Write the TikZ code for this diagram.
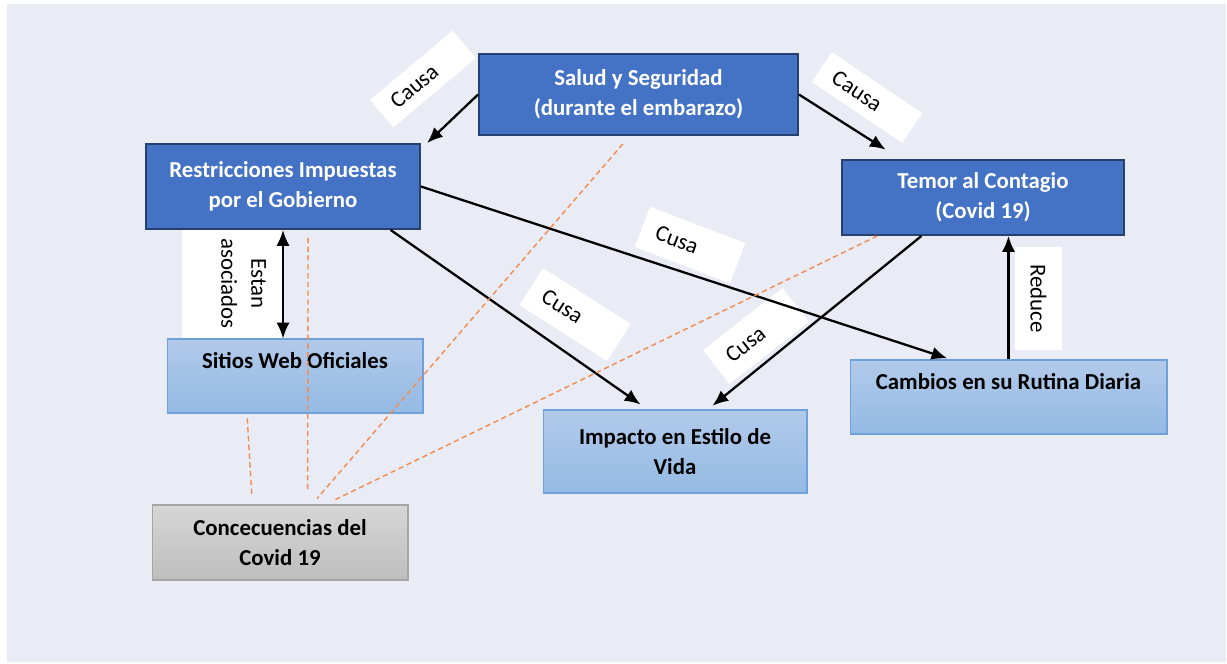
\documentclass[tikz,border=0pt]{standalone}
\usepackage{fontspec}
\setmainfont{Carlito}
\usepackage{tikz}
\usetikzlibrary{arrows.meta}
\definecolor{bgpanel}{RGB}{233,235,245}
\definecolor{darkfill}{RGB}{68,114,196}
\definecolor{darkline}{RGB}{38,64,112}
\definecolor{lighttop}{RGB}{178,202,234}
\definecolor{lightbot}{RGB}{148,186,228}
\definecolor{lightline}{RGB}{110,160,218}
\definecolor{graytop}{RGB}{214,214,214}
\definecolor{graybot}{RGB}{190,190,190}
\definecolor{grayline}{RGB}{165,165,165}
\definecolor{dashorange}{RGB}{240,140,80}

\begin{document}
\begin{tikzpicture}[x=0.02cm,y=-0.02cm,>={Latex[length=9pt,width=7.5pt]},
                    line width=1.3pt]
  \tikzstyle{mainbox}=[rectangle,draw=darkline,line width=1.1pt,fill=darkfill,text=white,
                       font=\fontsize{13}{17}\selectfont\bfseries,align=center]
  \tikzstyle{subbox}=[rectangle,draw=lightline,line width=0.6pt,top color=lighttop,
                      bottom color=lightbot,font=\fontsize{13}{17}\selectfont\bfseries,align=center]
  \tikzstyle{greybox}=[subbox,draw=grayline,top color=graytop,bottom color=graybot]
  \tikzstyle{toptext}=[text height=9pt,text depth=17pt]
  \tikzstyle{causebox}=[rectangle,fill=white,inner xsep=0.3cm,align=left,
                        font=\fontsize{13}{17}\selectfont]
  \tikzstyle{vtag}=[rectangle,fill=white,rotate=-90,align=center,
                    font=\fontsize{13}{17}\selectfont]
  \tikzstyle{link}=[dashorange,line width=0.8pt,dash pattern=on 3pt off 2pt]

  \useasboundingbox (0,0) rectangle (1227,663);
  \fill[white] (0,0) rectangle (1227,663);
  \fill[bgpanel] (7,4) rectangle (1226,662);

  % labels
  \node[causebox,rotate=40,text width=1.56cm,minimum height=0.72cm]    (causaL) at (423,79)     {Causa};
  \node[causebox,rotate=-34,text width=1.58cm,minimum height=0.72cm]   (causaR) at (867,97.5)   {Causa};
  \node[causebox,rotate=-21,text width=1.44cm,minimum height=0.86cm]   (cusaA)  at (690,245)    {Cusa};
  \node[causebox,rotate=-32.5,text width=1.48cm,minimum height=0.88cm] (cusaB)  at (575,314.5)  {Cusa};
  \node[causebox,rotate=38,text width=1.42cm,minimum height=0.86cm]    (cusaC)  at (756,336)    {Cusa};
  \node[vtag,text height=20pt,text depth=8pt,minimum width=2.18cm,minimum height=2cm]
       (estan)  at (232,283.5)  {Estan\\asociados};
  \node[vtag,minimum width=2.06cm,minimum height=0.94cm] (reduce) at (1038.5,298.5) {Reduce};

  % boxes
  \node[mainbox,minimum width=6.38cm,minimum height=1.62cm] (salud) at (638.5,94.5)
       {Salud y Seguridad\\(durante el embarazo)};
  \node[mainbox,minimum width=5.48cm,minimum height=1.7cm]  (restr) at (283,186.5)
       {Restricciones Impuestas\\por el Gobierno};
  \node[mainbox,minimum width=5.64cm,minimum height=1.5cm]  (temor) at (983,197.5)
       {Temor al Contagio\\(Covid 19)};
  \node[subbox,toptext,minimum width=5.12cm,minimum height=1.48cm] (sitios) at (295,376)
       {Sitios Web Oficiales};
  \node[subbox,minimum width=5.28cm,minimum height=1.66cm] (impacto) at (675,451.5)
       {Impacto en Estilo de\\Vida};
  \node[subbox,toptext,minimum width=6.34cm,minimum height=1.48cm] (cambios) at (1008.5,397)
       {Cambios en su Rutina Diaria};
  \node[greybox,minimum width=5.12cm,minimum height=1.5cm] (concec) at (280,542.5)
       {Concecuencias del\\Covid 19};

  \path[->]
(salud.west)    edge []                 ([xshift=3.5pt]restr.north east)
(salud.east)    edge [shorten >=10pt]   (temor.155)
(restr.east)    edge [shorten >=2pt]    (cambios.147)
(restr.-22)     edge [shorten >=5pt]    (impacto.123)
(temor.212)     edge [shorten >=3.4pt]  (impacto.52)
(cambios.north) edge []                 (cambios.north |- temor.south)
(restr.south)   edge [<->]              (restr.south |- sitios.north);

  \path[link]
(sitios.218) edge [shorten <=2.8pt,shorten >=5.7pt] (concec.126)
(restr.-60)  edge [shorten <=4.5pt,shorten >=7.4pt] (concec.54)
(salud.258)  edge [shorten <=6pt,shorten >=4.5pt]   (concec.50)
(temor.200)  edge [shorten >=6pt]                   (concec.40);

\end{tikzpicture}
\end{document}
